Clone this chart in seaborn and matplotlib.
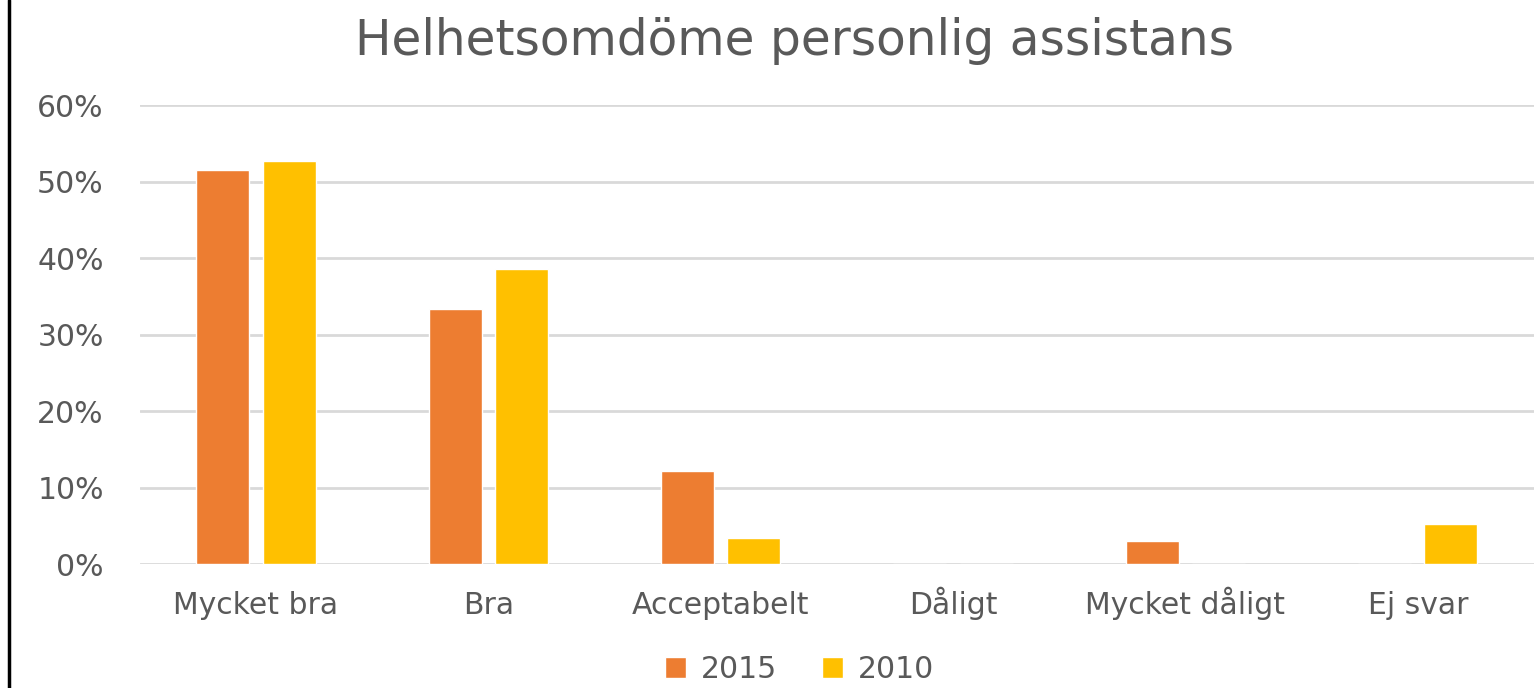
import pandas as pd
import matplotlib.pyplot as plt
import seaborn as sns
from matplotlib.lines import Line2D

categories = ['Mycket bra', 'Bra', 'Acceptabelt', 'Dåligt', 'Mycket dåligt', 'Ej svar']
years = ['2015', '2010']
values_2015 = [0.515, 0.333, 0.122, 0.0, 0.030, 0.0]
values_2010 = [0.527, 0.386, 0.034, 0.0, 0.0, 0.052]
y_ticks = [0.0, 0.1, 0.2, 0.3, 0.4, 0.5, 0.6]
y_tick_labels = ['0%', '10%', '20%', '30%', '40%', '50%', '60%']

df = pd.DataFrame({
    'kategori': categories * 2,
    'år': [years[0]] * len(categories) + [years[1]] * len(categories),
    'andel': values_2015 + values_2010,
})

sns.set_theme(style='white')
plt.rcParams['font.family'] = ['DejaVu Sans']
text_color = '#595959'

fig = plt.figure(figsize=(15.37, 6.88), dpi=100)
ax = fig.add_axes([0.091, 0.180, 0.907, 0.667])

sns.barplot(data=df, x='kategori', y='andel', hue='år', order=categories,
            hue_order=years, palette=['#ED7D31', '#FFC000'], saturation=1,
            width=0.57, gap=0.2, ax=ax, legend=True, zorder=3)

ax.set_ylim(0, 0.6)
ax.set_yticks(y_ticks)
ax.set_yticklabels(y_tick_labels)
ax.yaxis.grid(True, color='#D9D9D9', linewidth=2, zorder=0)
ax.set_axisbelow(True)
for s in ax.spines.values():
    s.set_visible(False)
ax.set_xlabel('')
ax.set_ylabel('')
ax.tick_params(axis='both', length=0, labelsize=21.5, colors=text_color)
ax.tick_params(axis='y', pad=26)
ax.tick_params(axis='x', pad=36)
for lab in ax.get_xticklabels():
    lab.set_verticalalignment('baseline')

ax.legend(loc='upper center', bbox_to_anchor=(0.473, -0.14), ncol=2, frameon=False,
          fontsize=21.5, labelcolor=text_color, handlelength=0.7, handleheight=0.7,
          handletextpad=0.5, columnspacing=1.5)

fig.suptitle('Helhetsomdöme personlig assistans', x=0.517, y=0.975,
             fontsize=35, color=text_color)

fig.add_artist(Line2D([0.006, 0.006], [0, 1], transform=fig.transFigure,
                      color='black', linewidth=2.5))

fig.savefig('out.png', dpi=100)
